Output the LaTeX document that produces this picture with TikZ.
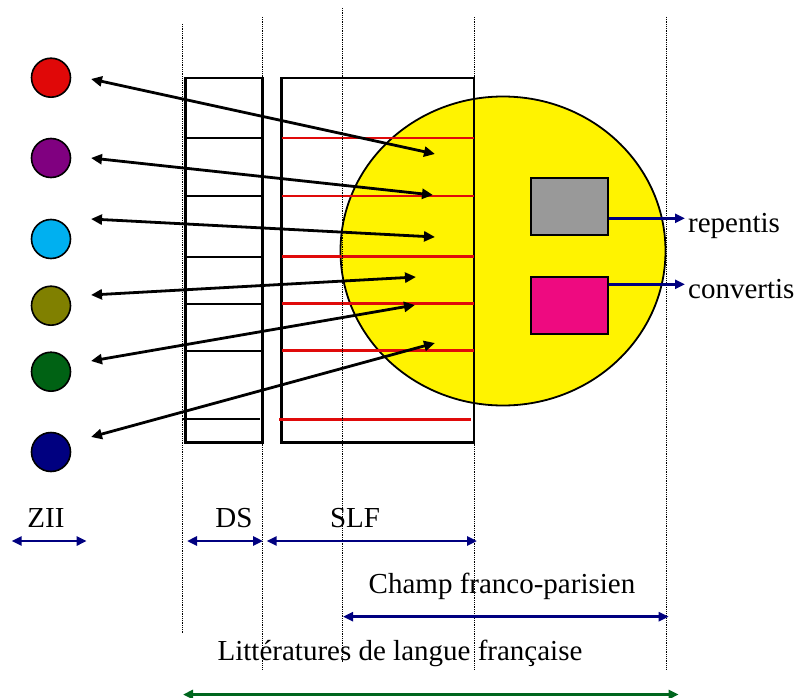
\documentclass[tikz,border=0pt]{standalone}
\usepackage{fontspec}
\setmainfont{Liberation Serif}
\usetikzlibrary{arrows.meta}
\definecolor{cRed}{RGB}{224,8,8}
\definecolor{cPurple}{RGB}{128,0,128}
\definecolor{cCyan}{RGB}{0,176,240}
\definecolor{cOlive}{RGB}{128,128,0}
\definecolor{cGreen}{RGB}{0,98,20}
\definecolor{cNavy}{RGB}{0,0,128}
\definecolor{cYellow}{RGB}{255,243,0}
\definecolor{cGray}{RGB}{153,153,153}
\definecolor{cPink}{RGB}{238,10,128}
\definecolor{cLine}{RGB}{224,10,10}
\definecolor{cDkGreen}{RGB}{0,102,30}
\begin{document}
\begin{tikzpicture}[x=1pt,y=-1pt,
  dot/.style={circle,draw=black,line width=1.6pt,minimum size=39pt,inner sep=0pt},
  boxline/.style={draw=black,line width=2.8pt},
  redline/.style={draw=cLine,line width=2.8pt},
  guide/.style={draw=black,line width=0.8pt,densely dotted},
  blk/.style={line width=2.8pt,{Triangle[length=11pt,width=10pt]}-{Triangle[length=11pt,width=10pt]}},
  blu/.style={draw=cNavy,line width=2.8pt,-{Triangle[length=10pt,width=9pt]}},
  blu2/.style={draw=cNavy,line width=2.8pt,{Triangle[length=10pt,width=9pt]}-{Triangle[length=10pt,width=9pt]}},
  grn2/.style={draw=cDkGreen,line width=2.8pt,{Triangle[length=10pt,width=9pt]}-{Triangle[length=10pt,width=9pt]}},
  sq/.style={draw=black,line width=2pt,minimum width=77pt,minimum height=57pt,inner sep=0pt},
  lab/.style={font=\fontsize{29}{34}\selectfont,inner sep=0pt,anchor=base}
]
\useasboundingbox (0,0) rectangle (797,698);
% yellow ellipse
\draw[fill=cYellow,line width=1.8pt] (503,251) ellipse [x radius=162.5pt, y radius=154.5pt];
% DS box
\draw[boxline] (185.7,78) rectangle (262.7,442.7);
\foreach \yy in {138,196,256.7,303.7,350.7}{\draw[line width=2.2pt] (185.7,\yy) -- (262.7,\yy);}
\draw[line width=2.2pt] (182,419.3) -- (260,419.3);
% SLF box
\draw[boxline] (281.7,78) rectangle (474,442.7);
\foreach \yy in {138,196,256.7,303.7,350.7}{\draw[redline] (282,\yy) -- (474,\yy);}
\draw[redline] (279,419.3) -- (471,419.3);
% dotted guides
\draw[guide] (182.3,24) -- (182.3,633);
\draw[guide] (262.7,17) -- (262.7,670);
\draw[guide] (342.5,8) -- (342.5,662);
\draw[guide] (474,17) -- (474,670);
\draw[guide] (666.5,17) -- (666.5,670);
% squares
\node[sq,fill=cGray] (g) at (569.9,206.5) {};
\node[sq,fill=cPink] (p) at (569.9,305.6) {};
\coordinate (rp) at (685,218.3);
\coordinate (cv) at (685,284.3);
\draw[blu] (g.east |- rp) -- (rp);
\draw[blu] (p.east |- cv) -- (cv);
\node[lab,anchor=base west] (trep) at (688,232) {repentis};
\node[lab,anchor=base west] (tconv) at (688,298) {convertis};
% circles
\node[dot,fill=cRed] (c1) at (51,77.7) {};
\node[dot,fill=cPurple] (c2) at (51,158) {};
\node[dot,fill=cCyan] (c3) at (51,239) {};
\node[dot,fill=cOlive] (c4) at (51,305.7) {};
\node[dot,fill=cGreen] (c5) at (51,371.7) {};
\node[dot,fill=cNavy] (c6) at (51,452) {};
% arrow endpoints
\coordinate (l1) at (91,79);   \coordinate (r1) at (435,154);
\coordinate (l2) at (91,158);  \coordinate (r2) at (433,195);
\coordinate (l3) at (91,219);  \coordinate (r3) at (435,237);
\coordinate (l4) at (91,295);  \coordinate (r4) at (416,277);
\coordinate (l5) at (91,361);  \coordinate (r5) at (415,305);
\coordinate (l6) at (91,437);  \coordinate (r6) at (435,343);
\foreach \i in {1,...,6}{\draw[blk] (l\i) -- (r\i);}
% bottom labels and spans
\node[lab] (tzii) at (46,527) {ZII};
\node[lab] (tds) at (234,527) {DS};
\node[lab] (tslf) at (355,527) {SLF};
\coordinate (z1) at (11.7,541); \coordinate (z2) at (86.7,541);
\coordinate (d1) at (187,541); \coordinate (d2) at (263,541);
\coordinate (s1) at (266.7,541); \coordinate (s2) at (477,541);
\draw[blu2] (z1) -- (z2);
\draw[blu2] (d1) -- (d2);
\draw[blu2] (s1) -- (s2);
\node[lab] (tchamp) at (502,593) {Champ franco-parisien};
\coordinate (f1) at (343,616.7); \coordinate (f2) at (668.7,616.7);
\draw[blu2] (f1) -- (f2);
\node[lab] (tlit) at (400,660) {Littératures de langue française};
\coordinate (g1) at (183,694.5); \coordinate (g2) at (678.7,694.5);
\draw[grn2] (g1) -- (g2);
\end{tikzpicture}
\end{document}
